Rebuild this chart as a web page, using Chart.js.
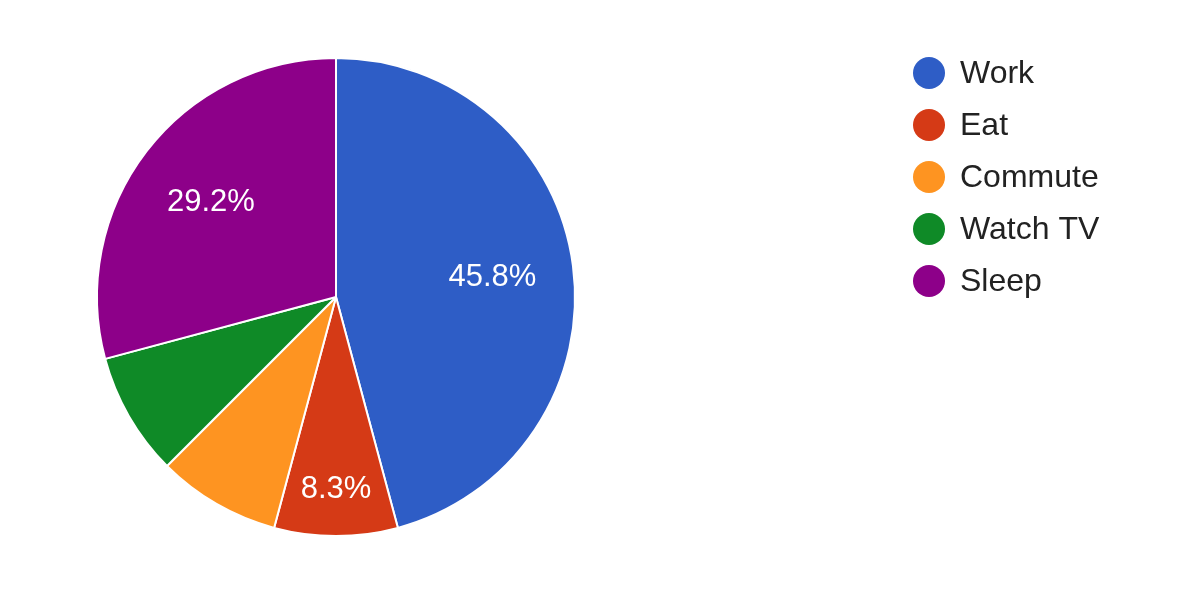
<!DOCTYPE html>
<html>
<head>
<meta charset="utf-8">
<script src="https://cdn.jsdelivr.net/npm/chart.js@4"></script>
<style>
  html, body { margin: 0; padding: 0; background: #fff; }
  #wrap { width: 1200px; height: 590px; position: relative; }
</style>
</head>
<body>
<div id="wrap"><canvas id="pie"></canvas></div>
<script>
const labels = ['Work', 'Eat', 'Commute', 'Watch TV', 'Sleep'];
const hours = [11, 2, 2, 2, 7];
const colors = ['#2e5dc6', '#d53a16', '#fe9421', '#0f8a27', '#8d0089'];
// slices that get a percent label drawn inside
const showPct = [true, true, false, false, true];

const fontFam = '"Liberation Sans", Arial, sans-serif';

const sliceLabels = {
  id: 'sliceLabels',
  afterDatasetsDraw(chart) {
    const ctx = chart.ctx;
    const meta = chart.getDatasetMeta(0);
    const total = hours.reduce((a, b) => a + b, 0);
    ctx.save();
    ctx.fillStyle = '#fff';
    ctx.font = '31px ' + fontFam;
    ctx.textAlign = 'center';
    ctx.textBaseline = 'middle';
    meta.data.forEach((arc, i) => {
      if (!showPct[i]) return;
      const p = arc.getProps(['x', 'y', 'startAngle', 'endAngle', 'outerRadius']);
      const mid = (p.startAngle + p.endAngle) / 2;
      const frac = hours[i] / total < 0.1 ? 0.8 : 0.66;
      const r = p.outerRadius * frac;
      ctx.fillText((hours[i] / total * 100).toFixed(1) + '%', p.x + Math.cos(mid) * r, p.y + Math.sin(mid) * r + 1);
    });
    ctx.restore();
  }
};

const sideLegend = {
  id: 'sideLegend',
  afterDraw(chart) {
    const ctx = chart.ctx;
    ctx.save();
    ctx.font = '32px ' + fontFam;
    ctx.textBaseline = 'middle';
    labels.forEach((lab, i) => {
      const y = 73 + i * 52;
      ctx.beginPath();
      ctx.arc(929, y, 16, 0, Math.PI * 2);
      ctx.fillStyle = colors[i];
      ctx.fill();
      ctx.fillStyle = '#222';
      ctx.fillText(lab, 960, y + 1);
    });
    ctx.restore();
  }
};

new Chart(document.getElementById('pie'), {
  type: 'pie',
  data: {
    labels,
    datasets: [{ data: hours, backgroundColor: colors, borderColor: '#fff', borderWidth: 2, hoverOffset: 0 }]
  },
  options: {
    responsive: true,
    maintainAspectRatio: false,
    animation: false,
    layout: { padding: { left: 96, right: 624, top: 57, bottom: 53 } },
    plugins: { legend: { display: false }, tooltip: { enabled: false } }
  },
  plugins: [sliceLabels, sideLegend]
});
</script>
</body>
</html>
